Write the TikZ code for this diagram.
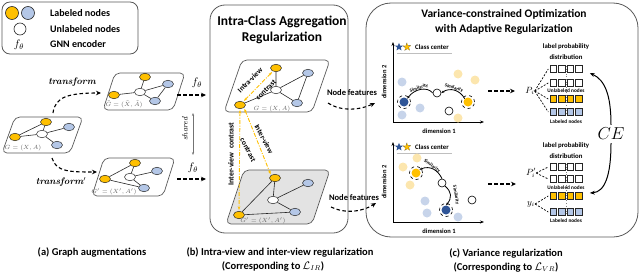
\documentclass[tikz,border=0pt]{standalone}
\usepackage{fontspec}
\newfontfamily\carl{Carlito}
\usetikzlibrary{shapes.geometric,arrows.meta}
\newcommand\fsz[1]{\fontsize{#1}{#1}\selectfont}
\definecolor{ylw}{HTML}{FFC000}
\definecolor{lblue}{HTML}{B4C7E7}
\definecolor{pyl}{HTML}{FCE6AE}
\definecolor{pbl}{HTML}{C7D4EA}
\definecolor{dblue}{HTML}{2F5597}
\definecolor{gfill}{HTML}{E3E3E3}
\definecolor{frm}{HTML}{595959}
\begin{document}
\begin{tikzpicture}[x=1pt,y=-1pt,
  frmbox/.style={draw=frm,line width=0.8pt},
  plane/.style={draw=frm,line width=0.7pt,rounded corners=5pt},
  gedge/.style={line width=0.6pt,draw=black!85},
  gn/.style={ellipse,draw=black!85,line width=0.5pt,minimum width=11pt,minimum height=7.5pt,inner sep=0},
  yn/.style={gn,fill=ylw},
  bn/.style={gn,fill=lblue},
  wn/.style={gn,fill=white},
  glab/.style={font=\fsz{6}\itshape,text=black!60,inner sep=0},
  lgtext/.style={font=\carl\bfseries\fsz{10},anchor=west,inner sep=0},
  dsh/.style={dash pattern=on 3.5pt off 2.5pt,line width=1.1pt,-{Stealth[length=5pt,width=4.5pt]}},
  ydd/.style={draw=ylw,line width=0.9pt,dash pattern=on 4pt off 1.5pt on 1pt off 1.5pt,{Stealth[length=3.5pt]}-{Stealth[length=3.5pt]}},
  ctext/.style={font=\carl\bfseries\fsz{7.5},inner sep=0},
  spt/.style={circle,inner sep=0,minimum size=9pt},
  ptY/.style={spt,fill=pyl},
  ptB/.style={spt,fill=pbl},
  ptW/.style={spt,draw=black,line width=0.6pt,fill=white,minimum size=8pt},
  axisline/.style={line width=1pt,-{Stealth[length=4pt]}},
  simarrow/.style={line width=0.8pt,-{Stealth[length=3pt]}},
  simt/.style={font=\carl\bfseries\fsz{4.8},inner sep=0},
  dimt/.style={font=\carl\bfseries\fsz{6.5},inner sep=0},
  sq/.style={rectangle,draw=black!85,line width=1pt,minimum size=6.5pt,inner sep=0},
  smalltxt/.style={font=\carl\bfseries\fsz{5.3},inner sep=0},
  fanline/.style={dash pattern=on 2pt off 1.5pt,line width=0.7pt},
  captxt/.style={font=\carl\bfseries\fsz{10.5},inner sep=0}
]
\useasboundingbox (0,0) rectangle (640,273);

% ---------- Legend ----------
\draw[frmbox,rounded corners=8pt] (2,2) rectangle (138,54);
\node[circle,draw=black!85,line width=0.6pt,fill=ylw,minimum size=13pt,inner sep=0] (lgy) at (12,13) {};
\node[circle,draw=black!85,line width=0.6pt,fill=lblue,minimum size=13pt,inner sep=0] (lgb) at (28,13) {};
\node[circle,draw=black!85,line width=0.6pt,fill=white,minimum size=12pt,inner sep=0] (lgw) at (20,29) {};
\node[inner sep=0] (lgf) at (19,45) {\fsz{11}$f_\theta$};
\node[lgtext] (lt1) at (50,13) {Labeled nodes};
\node[lgtext] (lt2) at (50,29) {Unlabeled nodes};
\node[lgtext] (lt3) at (50,44) {GNN encoder};

% ---------- (a) original graph ----------
\draw[plane] (2,153) -- (70,153) -- (83,117) -- (15,117) -- cycle;
\node[yn] (a0yt) at (46,122) {};
\node[yn] (a0yl) at (15,137) {};
\node[wn] (a0w) at (42,134) {};
\node[bn] (a0bt) at (69,127) {};
\node[bn] (a0bb) at (57,145) {};
\draw[gedge] (a0yl) -- (a0yt) (a0yl) -- (a0w) (a0yt) -- (a0w) (a0w) -- (a0bt) (a0w) -- (a0bb);
\node[glab] (a0lab) at (23,148) {$G=(X,A)$};

% ---------- (a) top augmented graph ----------
\draw[plane] (103,110) -- (173,110) -- (185,73) -- (115,73) -- cycle;
\node[yn] (a1yt) at (145,77) {};
\node[yn] (a1yl) at (114,95) {};
\node[wn] (a1w) at (140,92) {};
\node[bn] (a1bt) at (168,84) {};
\node[bn] (a1bb) at (155,101) {};
\draw[gedge] (a1yl) -- (a1w) (a1yt) -- (a1w) (a1w) -- (a1bt) (a1w) -- (a1bb) (a1bt) -- (a1bb);
\node[glab] (a1lab) at (124,104) {$\tilde G=(\tilde X,\tilde A)$};

% ---------- (a) bottom augmented graph ----------
\draw[plane] (92,196) -- (163,196) -- (175,158) -- (104,158) -- cycle;
\node[yn] (a2yt) at (135,163) {};
\node[yn] (a2yl) at (105,179) {};
\node[wn] (a2w) at (130,177) {};
\node[bn] (a2bt) at (157,171) {};
\node[bn] (a2bb) at (144,188) {};
\draw[gedge] (a2yl) -- (a2yt) (a2yt) -- (a2w) (a2yl) -- (a2bb) (a2w) -- (a2bt) (a2w) -- (a2bb);
\node[glab] (a2lab) at (114,192) {$G'=(X',A')$};

% transforms
\coordinate (t1s) at (53,113);
\coordinate (t1e) at (101,93);
\draw[dsh] (t1s) .. controls (55,97) and (68,93) .. (t1e);
\node[inner sep=0] (t1) at (72,82) {\fsz{9.5}\bfseries\itshape transform};
\coordinate (t2s) at (52,158);
\coordinate (t2e) at (97,172);
\draw[dsh] (t2s) .. controls (56,172) and (70,172) .. (t2e);
\node[inner sep=0] (t2) at (61,182) {\fsz{9.5}\bfseries\itshape transform$'$};

% encoders
\node[inner sep=0] (f1) at (197,83) {\fsz{11}$f_\theta$};
\node[inner sep=0] (f2) at (193,168) {\fsz{11}$f_\theta$};
\coordinate (e1s) at (177,95); \coordinate (e1e) at (206,95);
\coordinate (e2s) at (177,179); \coordinate (e2e) at (206,179);
\draw[dsh] (e1s) -- (e1e);
\draw[dsh] (e2s) -- (e2e);
\coordinate (sh1) at (193,113); \coordinate (sh2) at (193,155);
\draw[draw=black!55,line width=0.6pt,{Stealth[length=3pt]}-{Stealth[length=3pt]}] (sh1) -- (sh2);
\node[rotate=90,inner sep=0] (shared) at (185,129) {\fsz{8}\itshape shared};

\node[captxt] (capA) at (92,252) {(a) Graph augmentations};

% ---------- Panel (b) ----------
\draw[frmbox,rounded corners=15pt] (210,5) rectangle (348,233);
\node[align=center,font=\carl\bfseries\fontsize{13.5}{15.5}\selectfont,inner sep=0] (titB) at (282,30) {Intra-Class Aggregation\\Regularization};

\draw[plane] (224,112) -- (312,112) -- (330,60) -- (242,60) -- cycle;
\node[yn] (b1yt) at (276,68) {};
\node[yn] (b1yl) at (240,105) {};
\node[wn] (b1w) at (276,90) {};
\node[bn] (b1bt) at (308,73) {};
\node[bn] (b1bb) at (297,103) {};
\draw[gedge] (b1yt) -- (b1w) (b1yl) -- (b1w) (b1w) -- (b1bt) (b1w) -- (b1bb) (b1bt) -- (b1bb);
\node[glab] (b1lab) at (272,109) {$G=(X,A)$};

\draw[plane,fill=gfill] (226,224) -- (312,224) -- (330,170) -- (244,170) -- cycle;
\node[yn] (b2yt) at (275,178) {};
\node[yn] (b2yl) at (239,215) {};
\node[wn] (b2w) at (273,200) {};
\node[bn] (b2bt) at (308,183) {};
\node[bn] (b2bb) at (295,212) {};
\draw[gedge] (b2yl) -- (b2yt) (b2yt) -- (b2w) (b2w) -- (b2bt) (b2yl) -- (b2bb) (b2w) -- (b2bb);
\node[glab] (b2lab) at (263,221) {$G'=(X',A')$};

\draw[ydd,shorten <=1pt,shorten >=1pt] (b1yl) -- (b1yt);
\node[ctext,rotate=45] (iv1) at (250,80) {Intra-view};
\node[ctext,rotate=45] (iv2) at (266,90) {contrast};
\draw[ydd,shorten <=1pt,shorten >=1pt] (b1yl.south) -- (b2yl.north);
\node[ctext,rotate=90,font=\carl\bfseries\fsz{7.8}] (ev1) at (231,154) {Inter-view\ \ contrast};
\draw[ydd,shorten <=1pt,shorten >=1pt] (b1yl.south east) -- (b2yt.north west);
\node[ctext,rotate=-62] (ev2) at (264,139) {Inter-view};
\node[ctext,rotate=-62] (ev3) at (248,150) {contrast};

\node[captxt] (capB1) at (280,252) {(b) Intra-view and inter-view regularization};
\node[captxt] (capB2) at (273,266) {(Corresponding to $\mathcal{L}_{IR}$)};

% node features
\node[font=\carl\bfseries\fsz{8.5},inner sep=0] (nf1) at (352,93) {Node features};
\node[font=\carl\bfseries\fsz{8.5},inner sep=0] (nf2) at (354,198) {Node features};
\coordinate (n1s) at (328,103); \coordinate (n1e) at (375,103);
\coordinate (n2s) at (331,207); \coordinate (n2e) at (376,203);
\draw[dsh] (n1s) .. controls (342,112) and (360,110) .. (n1e);
\draw[dsh] (n2s) .. controls (345,214) and (362,212) .. (n2e);

% ---------- Panel (c) ----------
\draw[frmbox,rounded corners=25pt] (366,3) rectangle (638,237);
\node[align=center,font=\carl\bfseries\fontsize{11.5}{14.5}\selectfont,inner sep=0] (titC) at (504,22) {Variance-constrained Optimization\\with Adaptive Regularization};

% upper plot
\coordinate (uo) at (393,122);
\draw[axisline] (uo) -- (393,42);
\draw[axisline] (uo) -- (484,122);
\node[dimt] (ud1) at (439,131) {dimension 1};
\node[dimt,rotate=90] (ud2) at (384,82) {dimension 2};
\node[star,star points=5,star point ratio=2.3,fill=dblue,minimum size=8.5pt,inner sep=0] (us1) at (399,47) {};
\node[star,star points=5,star point ratio=2.3,fill=ylw,draw=black!70,dashed,line width=0.4pt,minimum size=8.5pt,inner sep=0] (us2) at (407,47) {};
\node[anchor=west,font=\carl\bfseries\fsz{6.8},inner sep=0] (ucc) at (415,47) {Class center};
\draw[black!25,line width=0.8pt] (397,53) -- (452,53);
\node[ptB] (ub1) at (402,82) {};
\node[ptB] (ub2) at (402,115) {};
\node[ptB] (ub3) at (420,108) {};
\node[ptY] (uy1) at (458,74) {};
\node[ptY] (uy2) at (475,80) {};
\node[ptY] (uy3) at (458,118) {};
\node[ptW] (uw1) at (437,93) {};
\node[ptW] (uw2) at (449,111) {};
\node[spt,fill=dblue] (ubc) at (404,102) {};
\draw[dashed,line width=0.6pt] (ubc) circle[radius=6.5pt];
\node[spt,fill=ylw] (uyc) at (468,102) {};
\draw[dashed,line width=0.6pt] (uyc) circle[radius=6.5pt];
\draw[simarrow] (uw1.west) .. controls (427,86) and (414,89) .. (ubc.north east);
\draw[simarrow] (uyc.north west) .. controls (460,90) and (450,87) .. (uw1.east);
\node[simt,rotate=18] (usm1) at (419,88) {Similarity};
\node[simt,rotate=-18] (usm2) at (454,88) {Similarity};

% lower plot
\coordinate (lo) at (393,222);
\draw[axisline] (lo) -- (393,142);
\draw[axisline] (lo) -- (484,222);
\node[dimt] (ld1) at (439,231) {dimension 1};
\node[dimt,rotate=90] (ld2) at (384,182) {dimension 2};
\node[star,star points=5,star point ratio=2.3,fill=dblue,minimum size=8.5pt,inner sep=0] (ls1) at (399,147) {};
\node[star,star points=5,star point ratio=2.3,fill=ylw,draw=black!70,dashed,line width=0.4pt,minimum size=8.5pt,inner sep=0] (ls2) at (407,147) {};
\node[anchor=west,font=\carl\bfseries\fsz{6.8},inner sep=0] (lcc) at (415,147) {Class center};
\draw[black!25,line width=0.8pt] (397,153) -- (452,153);
\node[ptY] (ly1) at (403,167) {};
\node[ptY] (ly2) at (417,158) {};
\node[ptY] (ly3) at (410,185) {};
\node[ptB] (lb1) at (425,201) {};
\node[ptB] (lb2) at (427,213) {};
\node[ptB] (lb3) at (458,217) {};
\node[ptW] (lw1) at (442,183) {};
\node[ptW] (lw2) at (472,200) {};
\node[spt,fill=ylw] (lyc) at (416,173) {};
\draw[dashed,line width=0.6pt] (lyc) circle[radius=6.5pt];
\node[spt,fill=dblue] (lbc) at (446,210) {};
\draw[dashed,line width=0.6pt] (lbc) circle[radius=6.5pt];
\draw[simarrow] (lw1.north) .. controls (438,170) and (430,165) .. (lyc.north east);
\draw[simarrow] (lw1.south east) .. controls (452,192) and (452,198) .. (lbc.north);
\node[simt,rotate=-35] (lsm1) at (432,166) {Similarity};
\node[simt,rotate=-80] (lsm2) at (456,195) {Similarity};

% dashed to P
\coordinate (d1s) at (488,91); \coordinate (d1e) at (515,91);
\coordinate (d2s) at (488,184); \coordinate (d2e) at (516,184);
\draw[dsh] (d1s) -- (d1e);
\draw[dsh] (d2s) -- (d2e);

% upper probability rows
\node[smalltxt,font=\carl\bfseries\fsz{6.8}] (ulp1) at (566,47) {label probability};
\node[smalltxt,font=\carl\bfseries\fsz{6.8}] (ulp2) at (566,57) {distribution};
\draw[black!50,dotted,line width=0.6pt] (566,66) -- (566,115);
\foreach \k in {0,1,2,3} {
  \node[sq,fill=white] (ur1-\k) at ({553.5+8.5*\k},69) {};
  \node[sq,fill=white] (ur2-\k) at ({553.5+8.5*\k},83) {};
  \node[sq,fill=ylw] (ur3-\k) at ({553.5+8.5*\k},99) {};
  \node[sq,fill=lblue] (ur4-\k) at ({553.5+8.5*\k},112) {};
}
\node[smalltxt] (uun) at (566,91) {Unlabeled nodes};
\node[smalltxt] (uln) at (566,122) {Labeled nodes};
\node[inner sep=0] (pi) at (530,91) {\fsz{9}$P_i$};
\draw[fanline] (pi.east) -- ([xshift=-1.5pt]ur1-0.west);
\draw[fanline] (pi.east) -- ([xshift=-1.5pt]ur2-0.west);
\draw[fanline] (pi.east) -- ([xshift=-1.5pt]ur3-0.west);
\draw[fanline] (pi.east) -- ([xshift=-1.5pt]ur4-0.west);

% lower probability rows
\node[smalltxt,font=\carl\bfseries\fsz{6.8}] (llp1) at (566,146) {label probability};
\node[smalltxt,font=\carl\bfseries\fsz{6.8}] (llp2) at (566,156) {distribution};
\draw[black!50,dotted,line width=0.6pt] (566,164) -- (566,215);
\foreach \k in {0,1,2,3} {
  \node[sq,fill=white] (lr1-\k) at ({553.5+8.5*\k},167) {};
  \node[sq,fill=white] (lr2-\k) at ({553.5+8.5*\k},179) {};
  \node[sq,fill=ylw] (lr3-\k) at ({553.5+8.5*\k},196) {};
  \node[sq,fill=lblue] (lr4-\k) at ({553.5+8.5*\k},212) {};
}
\node[smalltxt] (lun) at (566,188) {Unlabeled nodes};
\node[smalltxt] (lln) at (566,221) {Labeled nodes};
\node[inner sep=0] (pp) at (531,173) {\fsz{9}$P_i'$};
\node[inner sep=0] (yi) at (531,204) {\fsz{9}$y_i$};
\draw[fanline] (pp.east) -- ([xshift=-1.5pt]lr1-0.west);
\draw[fanline] (pp.east) -- ([xshift=-1.5pt]lr2-0.west);
\draw[fanline] (yi.east) -- ([xshift=-1.5pt]lr3-0.west);
\draw[fanline] (yi.east) -- ([xshift=-1.5pt]lr4-0.west);

% CE
\node[inner sep=0] (ce) at (611,134) {\fsz{16}$CE$};
\draw[line width=1pt,-{Stealth[length=5pt]}] (ce.north) ++(0,-3) .. controls (611,95) and (605,80) .. ([xshift=7pt,yshift=-4pt]ur1-3.east);
\draw[line width=1pt,-{Stealth[length=5pt]}] (ce.south) ++(0,3) .. controls (611,175) and (605,192) .. ([xshift=7pt,yshift=3pt]lr3-3.east);

\node[captxt] (capC1) at (506,253) {(c) Variance regularization};
\node[captxt] (capC2) at (506,267) {(Corresponding to $\mathcal{L}_{VR}$)};
\end{tikzpicture}
\end{document}
